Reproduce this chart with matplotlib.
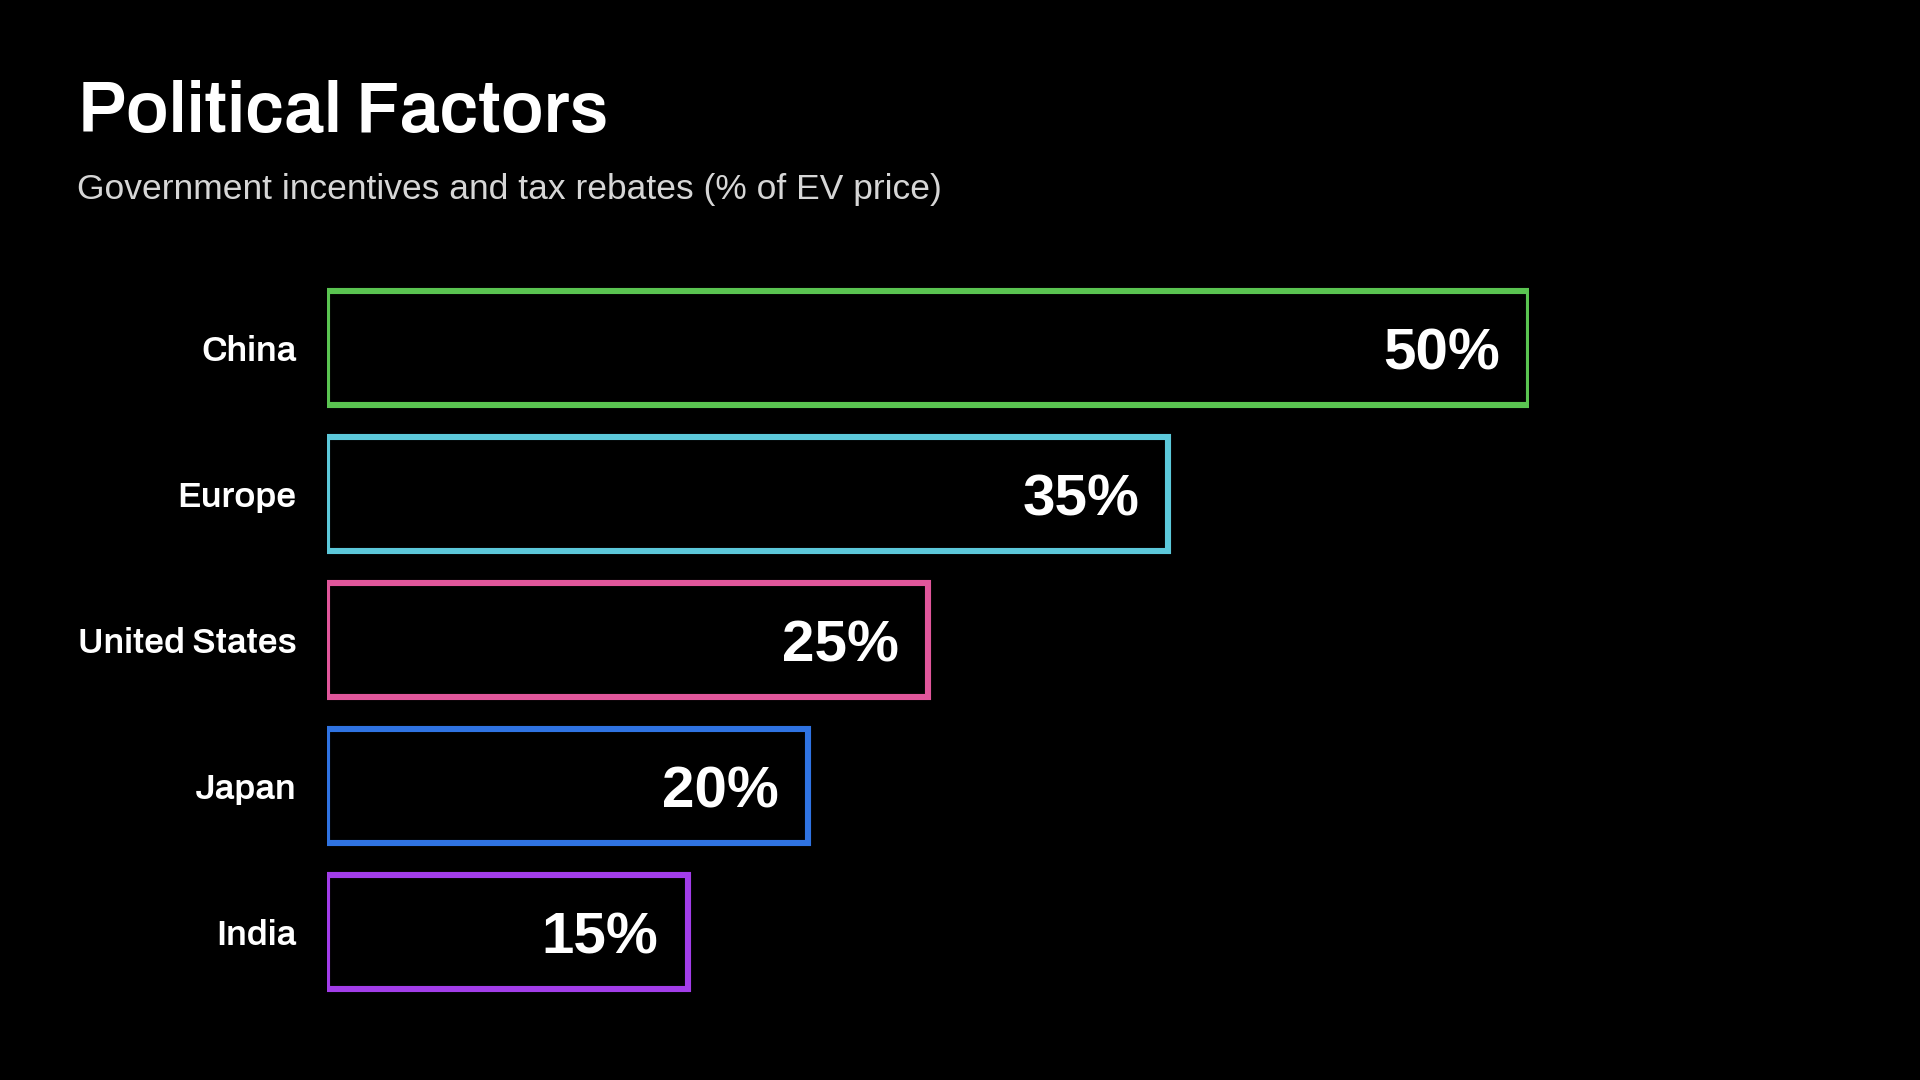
import matplotlib
matplotlib.use("Agg")
import matplotlib.pyplot as plt

regions = ["China", "Europe", "United States", "Japan", "India"]
incentives = [50, 35, 25, 20, 15]
bar_colors = ["#5ac451", "#5cc8da", "#e0569b", "#2f73e2", "#a23de9"]

title = "Political Factors"
subtitle = "Government incentives and tax rebates (% of EV price)"

FONT = "Archivo"
BODY = "Liberation Sans"
BG = "black"

fig = plt.figure(figsize=(19.2, 10.8), dpi=100, facecolor=BG)
# axes: x=0 at px 327, x=50 at px 1529; rows centred 348 .. 932
ax = fig.add_axes([327 / 1920, 1 - 1005 / 1080, (1529 - 327) / 1920, 730 / 1080])
ax.set_facecolor(BG)

y = list(range(len(regions)))
bars = ax.barh(y, incentives, height=0.785, facecolor=BG,
               edgecolor=bar_colors, linewidth=4.4)
ax.set_xlim(0, 50)
ax.set_ylim(len(regions) - 0.5, -0.5)

for b, v in zip(bars, incentives):
    ax.annotate(f"{v}%", (v, b.get_y() + b.get_height() / 2),
                xytext=(-21, 0), textcoords="offset points",
                ha="right", va="center_baseline", color="white",
                fontsize=42, fontweight="bold", family=BODY)

ax.set_yticks(y)
ax.set_yticklabels(regions, color="white", fontsize=25.5,
                   fontweight="bold", family=FONT)
ax.tick_params(axis="y", length=0, pad=22)
ax.set_xticks([])
for s in ax.spines.values():
    s.set_visible(False)

fig.text(78 / 1920, 1 - 132 / 1080, title, color="white", fontsize=51.5,
         fontweight="bold", family=FONT, va="baseline", ha="left")
fig.text(77 / 1920, 1 - 199 / 1080, subtitle, color="#d6d6d6", fontsize=25.5,
         family=BODY, va="baseline", ha="left")

fig.savefig("out.png", facecolor=BG)
